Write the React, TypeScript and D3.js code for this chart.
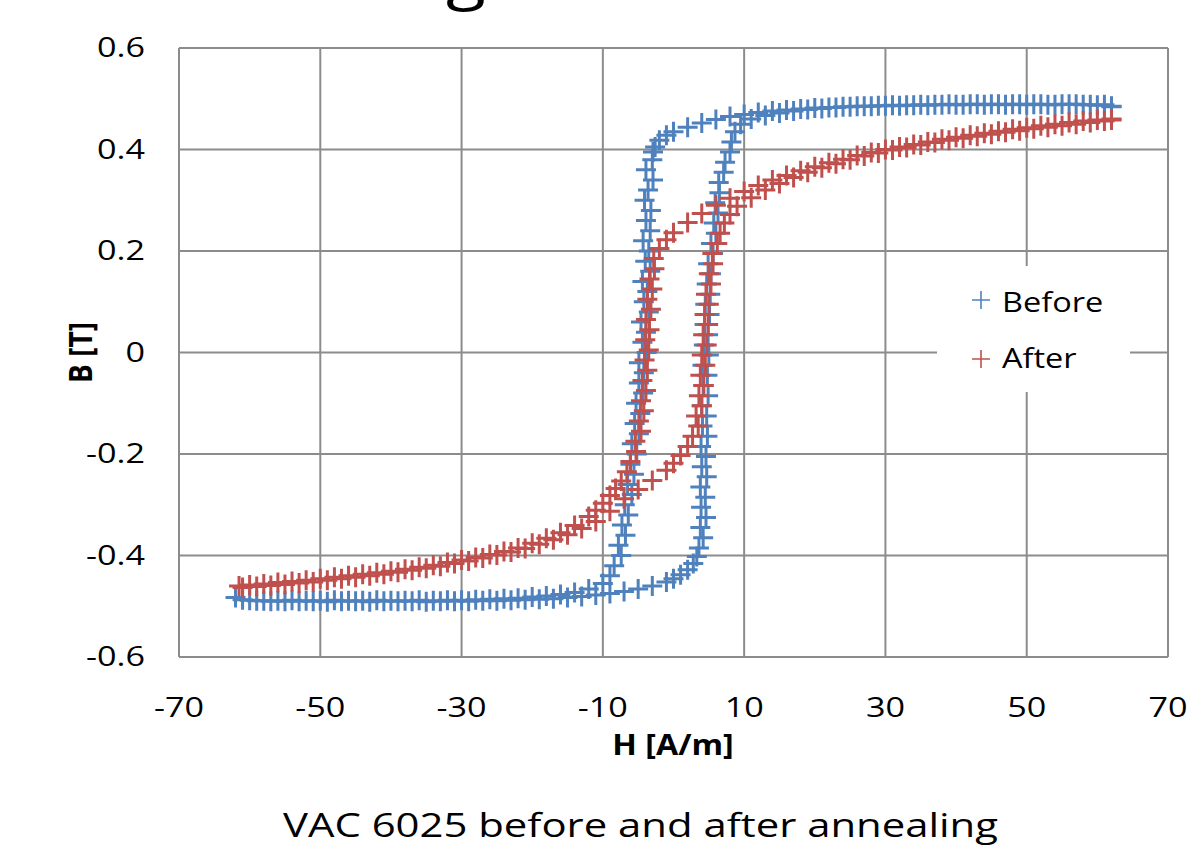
import React from "react";
import * as d3 from "d3";

// Tick values
const xTicks = [-70, -50, -30, -10, 10, 30, 50, 70];
const yTicks = [0.6, 0.4, 0.2, 0, -0.2, -0.4, -0.6];

// "Before" loop: descending branch (upper) and ascending branch (lower)
const beforeDesc: [number, number][] = [
  [62,0.485],[60,0.487],[58,0.488],[56,0.489],[54,0.488],[52,0.489],[50,0.488],[48,0.489],[46,0.489],[44,0.488],[42,0.489],[40,0.488],[38,0.488],[36,0.487],[34,0.487],[32,0.486],[30,0.486],[28,0.485],[26,0.485],[24,0.484],[22,0.483],[20,0.482],[18,0.48],[16,0.478],[14,0.476],[12,0.473],[10,0.469],[8,0.465],[6,0.459],[4,0.452],[2,0.444],[0,0.435],[-1,0.428],[-2,0.418],[-2.6,0.405],[-2.9,0.395],
  [-3.0,0.38],[-3.9,0.36],[-2.9,0.34],[-3.6,0.32],[-4.1,0.3],[-3.2,0.28],[-3.9,0.26],[-3.3,0.24],[-4.3,0.22],[-3.5,0.2],[-4.0,0.18],[-3.3,0.16],[-4.4,0.14],[-3.7,0.12],[-4.2,0.1],[-3.5,0.08],[-4.6,0.06],[-3.9,0.04],[-4.4,0.02],[-3.8,0.0],[-4.9,-0.02],[-4.2,-0.04],[-4.9,-0.06],[-4.3,-0.08],[-5.3,-0.1],[-4.7,-0.12],[-5.5,-0.14],[-4.9,-0.16],[-5.9,-0.18],[-5.2,-0.2],[-6.1,-0.22],[-5.6,-0.24],[-6.5,-0.26],[-5.9,-0.28],[-6.9,-0.3],[-6.4,-0.32],[-7.3,-0.34],[-6.8,-0.36],[-7.8,-0.38],[-7.4,-0.4],[-8.4,-0.42],[-9.0,-0.44],
  [-10,-0.455],[-12,-0.466],[-14,-0.473],[-16,-0.477],[-18,-0.48],[-20,-0.482],[-22,-0.484],[-24,-0.485],[-26,-0.486],[-28,-0.487],[-30,-0.488],[-32,-0.488],[-34,-0.489],[-36,-0.488],[-38,-0.489],[-40,-0.489],[-42,-0.488],[-44,-0.489],[-46,-0.489],[-48,-0.488],[-50,-0.489],[-52,-0.489],[-54,-0.488],[-56,-0.489],[-58,-0.489],[-60,-0.488],[-62,-0.483],
];
const beforeAsc: [number, number][] = [
  [-61,-0.487],[-59,-0.489],[-57,-0.49],[-55,-0.49],[-53,-0.49],[-51,-0.49],[-49,-0.491],[-47,-0.49],[-45,-0.49],[-43,-0.491],[-41,-0.49],[-39,-0.49],[-37,-0.49],[-35,-0.491],[-33,-0.49],[-31,-0.49],[-29,-0.49],[-27,-0.489],[-25,-0.489],[-23,-0.488],[-21,-0.487],[-19,-0.486],[-17,-0.485],[-15,-0.483],[-13,-0.481],[-11,-0.478],[-9,-0.475],[-7,-0.471],[-5,-0.466],[-3,-0.46],[-1,-0.452],[0,-0.446],[1,-0.438],[2,-0.428],[2.8,-0.416],[3.3,-0.402],
  [3.6,-0.385],[4.2,-0.365],[3.8,-0.345],[4.6,-0.325],[3.9,-0.305],[4.5,-0.285],[3.8,-0.265],[4.7,-0.245],[4.0,-0.225],[4.6,-0.205],[3.9,-0.185],[4.8,-0.165],[4.1,-0.145],[4.7,-0.125],[4.0,-0.105],[4.9,-0.085],[4.2,-0.065],[4.8,-0.045],[4.1,-0.025],[5.0,-0.005],[4.3,0.015],[4.9,0.035],[4.4,0.055],[5.1,0.075],[4.5,0.095],[5.2,0.115],[4.7,0.135],[5.3,0.155],[4.9,0.175],[5.6,0.195],[5.3,0.215],[6.0,0.235],[5.7,0.255],[6.3,0.275],[5.9,0.295],[6.5,0.315],[6.4,0.335],[7.1,0.355],[7.3,0.375],[8.0,0.395],[8.2,0.415],[8.7,0.435],
  [9.5,0.45],[11,0.46],[13,0.467],[15,0.472],[17,0.476],[19,0.479],[21,0.481],[23,0.483],[25,0.484],[27,0.485],[29,0.486],[31,0.487],[33,0.487],[35,0.488],[37,0.488],[39,0.489],[41,0.488],[43,0.489],[45,0.489],[47,0.488],[49,0.489],[51,0.489],[53,0.488],[55,0.489],[57,0.489],[59,0.488],[61,0.488],[62,0.484],
];

// "After" loop
const afterDesc: [number, number][] = [
  [62,0.46],[60,0.458],[58,0.456],[56,0.453],[54,0.45],[52,0.447],[50,0.443],[48,0.44],[46,0.436],[44,0.432],[42,0.428],[40,0.424],[38,0.42],[36,0.415],[34,0.41],[32,0.405],[30,0.4],[28,0.394],[26,0.388],[24,0.381],[22,0.374],[20,0.366],[18,0.358],[16,0.349],[14,0.34],[12,0.329],[10,0.317],[8,0.304],[6,0.29],[4,0.274],[2,0.256],[0,0.236],[-1,0.222],
  [-2.0,0.205],[-2.8,0.185],[-2.7,0.165],[-3.4,0.145],[-3.0,0.125],[-3.7,0.105],[-3.2,0.085],[-3.9,0.065],[-3.4,0.045],[-4.0,0.025],[-3.5,0.005],[-4.1,-0.015],[-3.7,-0.035],[-4.4,-0.055],[-3.9,-0.075],[-4.6,-0.095],[-4.2,-0.115],[-4.9,-0.135],[-4.6,-0.155],[-5.4,-0.175],[-5.3,-0.195],[-6.1,-0.215],[-6.6,-0.235],
  [-7.4,-0.253],[-8.2,-0.268],[-9,-0.282],[-10,-0.297],[-11,-0.311],[-12,-0.323],[-14,-0.341],[-16,-0.355],[-18,-0.366],[-20,-0.376],[-22,-0.385],[-24,-0.392],[-26,-0.398],[-28,-0.404],[-30,-0.409],[-32,-0.414],[-34,-0.419],[-36,-0.423],[-38,-0.427],[-40,-0.431],[-42,-0.434],[-44,-0.437],[-46,-0.44],[-48,-0.443],[-50,-0.446],[-52,-0.449],[-54,-0.451],[-56,-0.453],[-58,-0.456],[-60,-0.458],[-61.5,-0.46],
];
const afterAsc: [number, number][] = [
  [-61,-0.463],[-59,-0.461],[-57,-0.459],[-55,-0.457],[-53,-0.454],[-51,-0.452],[-49,-0.449],[-47,-0.446],[-45,-0.443],[-43,-0.44],[-41,-0.437],[-39,-0.433],[-37,-0.429],[-35,-0.425],[-33,-0.421],[-31,-0.416],[-29,-0.411],[-27,-0.405],[-25,-0.399],[-23,-0.393],[-21,-0.386],[-19,-0.378],[-17,-0.369],[-15,-0.359],[-13,-0.347],[-11,-0.333],[-9,-0.313],[-7,-0.288],[-5,-0.27],[-3,-0.252],[-1,-0.232],[0,-0.218],[1,-0.203],[2,-0.185],
  [2.7,-0.165],[3.5,-0.145],[3.2,-0.125],[4.0,-0.105],[3.6,-0.085],[4.3,-0.065],[3.8,-0.045],[4.5,-0.025],[4.0,-0.005],[4.7,0.015],[4.2,0.035],[4.9,0.055],[4.4,0.075],[5.0,0.095],[4.6,0.115],[5.3,0.135],[5.0,0.155],[5.6,0.175],[5.5,0.195],[6.2,0.215],[6.6,0.235],
  [7.2,0.255],[8,0.272],[9,0.288],[11,0.305],[13,0.32],[15,0.333],[17,0.345],[19,0.355],[21,0.364],[23,0.372],[25,0.38],[27,0.387],[29,0.393],[31,0.399],[33,0.404],[35,0.409],[37,0.414],[39,0.418],[41,0.422],[43,0.426],[45,0.43],[47,0.434],[49,0.437],[51,0.441],[53,0.444],[55,0.447],[57,0.45],[59,0.453],[61,0.456],[62,0.458],
];

const series = [
  { name: "Before", color: "#4F81BD", points: [...beforeDesc, ...beforeAsc] },
  { name: "After", color: "#C0504D", points: [...afterDesc, ...afterAsc] },
];

const FONT = "'Open Sans', sans-serif";
const K = 1.22; // horizontal stretch of text
const KB = 1.15;

export default function App() {
  const W = 1191, H = 855;
  const x = d3.scaleLinear().domain([-70, 70]).range([179, 1168]);
  const y = d3.scaleLinear().domain([-0.6, 0.6]).range([657, 48]);
  const plus = (s: number) => `M${-s},0H${s}M0,${-s}V${s}`;
  const grid = "#8c8c8c";

  return (
    <svg width={W} height={H} style={{ position: "absolute", left: 0, top: 0, background: "#fff" }} fontFamily={FONT}>
      <rect x={0} y={0} width={W} height={H} fill="#fff" />
      {/* cut-off title */}
      <text transform={`translate(446,-2) scale(${K},1)`} fontSize={60} fill="#000">g</text>
      {/* grid */}
      {xTicks.map((t) => (
        <line key={"gx" + t} x1={x(t)} x2={x(t)} y1={y(0.6)} y2={y(-0.6)} stroke={grid} strokeWidth={2} />
      ))}
      {yTicks.map((t) => (
        <line key={"gy" + t} x1={x(-70)} x2={x(70)} y1={y(t)} y2={y(t)} stroke={grid} strokeWidth={2} />
      ))}
      {/* tick labels */}
      {yTicks.map((t) => (
        <text key={"ty" + t} transform={`translate(145,${y(t) + 9}) scale(${K},1)`} textAnchor="end" fontSize={28} fill="#000">
          {String(t)}
        </text>
      ))}
      {xTicks.map((t) => (
        <text key={"tx" + t} transform={`translate(${x(t)},717) scale(${K},1)`} textAnchor="middle" fontSize={28} fill="#000">
          {String(t)}
        </text>
      ))}
      {/* axis titles */}
      <text transform={`translate(673,755) scale(${KB},1)`} textAnchor="middle" fontSize={28} fontWeight="bold">H [A/m]</text>
      <text transform={`translate(92,${y(0)}) scale(${KB},1) rotate(-90)`} textAnchor="middle" fontSize={28} fontWeight="bold">B [T]</text>
      {/* data */}
      {series.map((s) => (
        <g key={s.name} stroke={s.color} strokeWidth={3} fill="none">
          {s.points.map((p, i) => (
            <path key={i} d={plus(10)} transform={`translate(${x(p[0])},${y(p[1])})`} />
          ))}
        </g>
      ))}
      {/* legend */}
      <rect x={937} y={266} width={193} height={126} fill="#fff" />
      {series.map((s, i) => (
        <g key={"lg" + s.name}>
          <path d={plus(9)} transform={`translate(981,${300 + i * 59})`} stroke={s.color} strokeWidth={1.6} fill="none" />
          <text transform={`translate(1002,${312 + i * 56}) scale(1.16,1)`} fontSize={28} fill="#000">{s.name}</text>
        </g>
      ))}
      {/* caption */}
      <text transform={`translate(640.5,837)`} textAnchor="middle" fontSize={33} textLength={715} lengthAdjust="spacingAndGlyphs" fill="#000">VAC 6025 before and after annealing</text>
    </svg>
  );
}
